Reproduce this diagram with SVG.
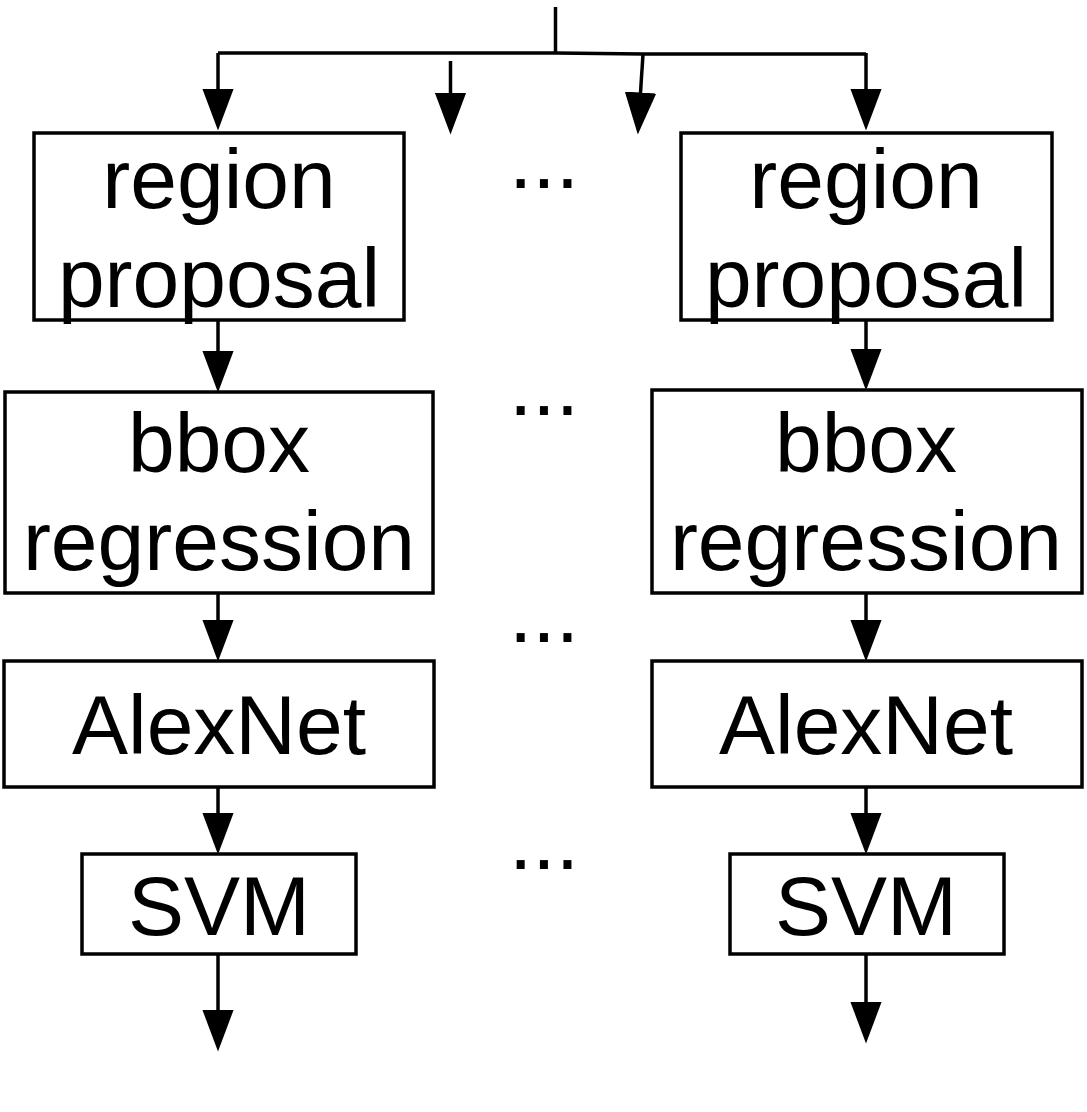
<svg xmlns="http://www.w3.org/2000/svg" width="1087" height="1112" viewBox="0 0 1087 1112">
<style>
.box{fill:#fff;stroke:#000;stroke-width:3.5}
.lbl{font-family:"Liberation Sans",Arial,Helvetica,sans-serif;font-size:84px;fill:#000;text-anchor:middle}
.con{fill:none;stroke:#000;stroke-width:3.5}
</style>
<defs>
<marker id="ah" markerUnits="userSpaceOnUse" markerWidth="42" markerHeight="32" viewBox="0 0 40 30" refX="30" refY="15" orient="auto">
<path d="M0,0 L40,15 L0,30 z" fill="#000"/>
</marker>
</defs>
<rect width="1087" height="1112" fill="#fff"/>
<g id="connectors">
<path class="con" d="M555.5,7 V53"/>
<path class="con" d="M218,53 H555.5 L643,54 H866"/>
<path class="con" d="M218,53 V120" marker-end="url(#ah)"/>
<path class="con" d="M450.5,61 V124" marker-end="url(#ah)"/>
<path class="con" d="M643,54 L638.5,124" marker-end="url(#ah)"/>
<path class="con" d="M866,53 V120" marker-end="url(#ah)"/>
<path class="con" d="M218,320 V382" marker-end="url(#ah)"/>
<path class="con" d="M218,593 V651" marker-end="url(#ah)"/>
<path class="con" d="M218,787 V844" marker-end="url(#ah)"/>
<path class="con" d="M218,954 V1041" marker-end="url(#ah)"/>
<path class="con" d="M866,320 V380" marker-end="url(#ah)"/>
<path class="con" d="M866,593 V651" marker-end="url(#ah)"/>
<path class="con" d="M866,787 V844" marker-end="url(#ah)"/>
<path class="con" d="M866,954 V1033" marker-end="url(#ah)"/>
</g>
<g id="rp-left"><rect class="box" x="34" y="133" width="370" height="187"/><text class="lbl" x="219" y="208">region</text><text class="lbl" x="219" y="307">proposal</text></g>
<g id="rp-right"><rect class="box" x="681" y="133" width="371" height="187"/><text class="lbl" x="866" y="208">region</text><text class="lbl" x="866" y="307">proposal</text></g>
<g id="bb-left"><rect class="box" x="5" y="392" width="428" height="201"/><text class="lbl" x="219" y="472">bbox</text><text class="lbl" x="219" y="570">regression</text></g>
<g id="bb-right"><rect class="box" x="652" y="390" width="430" height="203"/><text class="lbl" x="866" y="472">bbox</text><text class="lbl" x="866" y="570">regression</text></g>
<g id="an-left"><rect class="box" x="4" y="661" width="430" height="126"/><text class="lbl" x="219" y="754">AlexNet</text></g>
<g id="an-right"><rect class="box" x="652" y="661" width="430" height="126"/><text class="lbl" x="866" y="754">AlexNet</text></g>
<g id="svm-left"><rect class="box" x="82" y="854" width="274" height="100"/><text class="lbl" x="219" y="935">SVM</text></g>
<g id="svm-right"><rect class="box" x="730" y="854" width="274" height="100"/><text class="lbl" x="866" y="935">SVM</text></g>
<g id="dots">
<text class="lbl" x="544" y="188">...</text>
<text class="lbl" x="544" y="415">...</text>
<text class="lbl" x="544" y="642">...</text>
<text class="lbl" x="544" y="869">...</text>
</g>
</svg>
